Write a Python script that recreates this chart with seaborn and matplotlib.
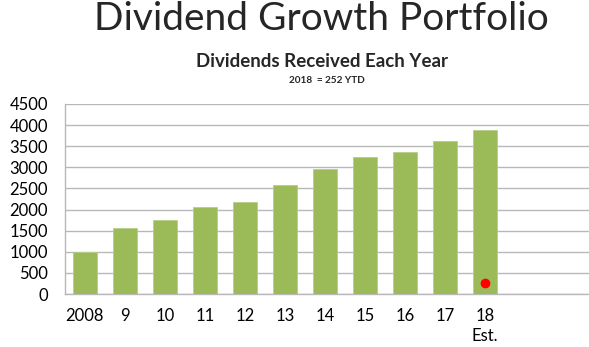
import matplotlib
matplotlib.use("Agg")
import matplotlib.pyplot as plt
import seaborn as sns
import pandas as pd

years = ["2008", "9", "10", "11", "12", "13", "14", "15", "16", "17", "18\nEst."]
dividends = [990, 1560, 1760, 2070, 2170, 2590, 2950, 3240, 3360, 3620, 3890]
ytd_label_index = 10
ytd_value = 252
yticks = [0, 500, 1000, 1500, 2000, 2500, 3000, 3500, 4000, 4500]

title = "Dividend Growth Portfolio"
subtitle = "Dividends Received Each Year"
note = "2018  = 252 YTD"

sns.set_theme(style="white")
plt.rcParams["font.family"] = ["Lato", "DejaVu Sans"]

df = pd.DataFrame({"year": years, "dividends": dividends})

fig = plt.figure(figsize=(5.89, 3.47), dpi=100)
ax = fig.add_axes([0.110, 0.1527, 0.89, 0.5476])

sns.barplot(data=df, x="year", y="dividends", color="#9bbb59", width=0.6,
            saturation=1, edgecolor="#b5cf86", linewidth=0.6, ax=ax, zorder=3)
ax.plot([ytd_label_index], [ytd_value], "o", color="#ff0000", markersize=6, zorder=4)

ax.set_ylim(0, 4500)
ax.set_xlim(-0.5, 12.6)
ax.set_yticks(yticks)
ax.set_yticklabels([str(v) for v in yticks], fontsize=12)
ax.tick_params(axis="y", length=0, pad=12, labelcolor="black")
ax.tick_params(axis="x", length=0, pad=10, labelsize=12, labelcolor="black")
for lbl in ax.get_xticklabels():
    lbl.set_linespacing(1.35)
    lbl.set_verticalalignment("top")
ax.yaxis.grid(True, color="#b8b8b8", linewidth=1.0, zorder=0)
ax.xaxis.grid(False)
ax.set_xlabel("")
ax.set_ylabel("")
for s in ["top", "right"]:
    ax.spines[s].set_visible(False)
for s in ["left", "bottom"]:
    ax.spines[s].set_color("#b8b8b8")
    ax.spines[s].set_linewidth(1.0)

fig.text(0.545, 0.945, title, ha="center", va="center", fontsize=28)
fig.text(0.547, 0.822, subtitle, ha="center", va="center", fontsize=13.5, fontweight="bold")
fig.text(0.555, 0.769, note, ha="center", va="center", fontsize=7.2, fontweight="bold")

fig.savefig("out.png", dpi=100)
